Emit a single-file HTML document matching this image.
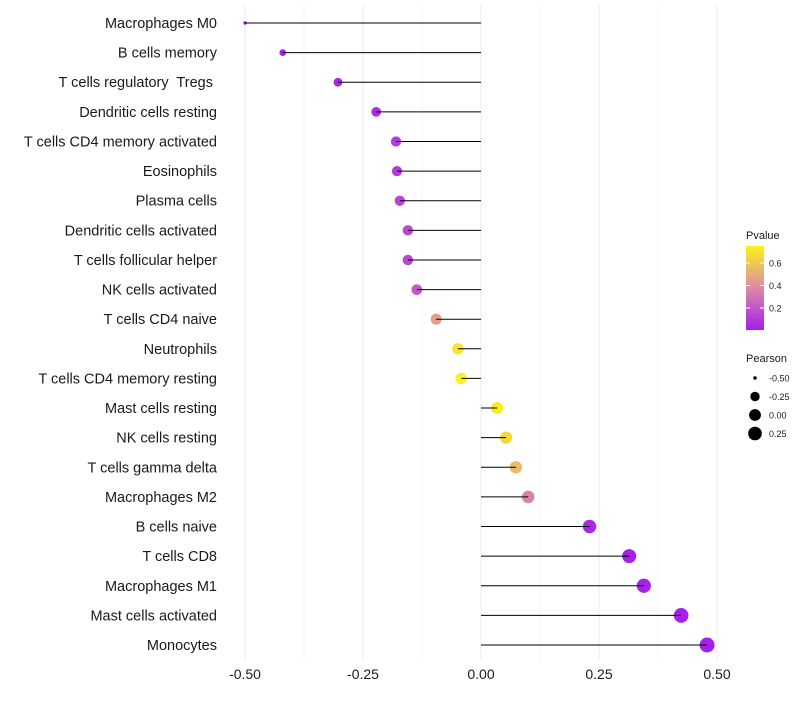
<!DOCTYPE html>
<html><head><meta charset="utf-8"><style>
body{margin:0;background:#fff;font-family:"Liberation Sans",sans-serif}
text{white-space:pre}
</style></head><body>
<svg id="c" width="800" height="700" xmlns="http://www.w3.org/2000/svg"></svg>
<script>
const cells=["Macrophages M0","B cells memory","T cells regulatory  Tregs ","Dendritic cells resting","T cells CD4 memory activated","Eosinophils","Plasma cells","Dendritic cells activated","T cells follicular helper","NK cells activated","T cells CD4 naive","Neutrophils","T cells CD4 memory resting","Mast cells resting","NK cells resting","T cells gamma delta","Macrophages M2","B cells naive","T cells CD8","Macrophages M1","Mast cells activated","Monocytes"];
const pearson=[-0.50,-0.42,-0.303,-0.222,-0.18,-0.178,-0.172,-0.155,-0.155,-0.136,-0.095,-0.049,-0.042,0.034,0.053,0.074,0.10,0.23,0.314,0.345,0.424,0.479];
const pvalue=[0.001,0.01,0.02,0.05,0.1,0.1,0.13,0.15,0.15,0.2,0.45,0.7,0.75,0.73,0.65,0.55,0.35,0.03,0.01,0.01,0.005,0.002];
const xTicks=[-0.5,-0.25,0,0.25,0.5];
const xTickLabels=["-0.50","-0.25","0.00","0.25","0.50"];
const pTicks=[0.2,0.4,0.6];
const sizeTicks=[-0.5,-0.25,0,0.25];
const sizeTickLabels=["-0.50","-0.25","0.00","0.25"];

const svg=document.getElementById('c');const NS="http://www.w3.org/2000/svg";
function mk(t,a,p){const e=document.createElementNS(NS,t);for(const k in a)e.setAttribute(k,a[k]);(p||svg).appendChild(e);return e;}
const x=v=>481+v*472;
const y=i=>23+i*(622/21);
const r=v=>Math.sqrt(3+53*Math.pow(Math.max(0,(v+0.5)/0.98),0.75));
function lerp(a,b,t){return a.map((c,i)=>Math.round(c+(b[i]-c)*t));}
function col(p){let t=Math.min(1,Math.max(0,p/0.75));const c0=[165,30,235],c1=[219,138,168],c2=[253,242,26];
 const c=t<0.5?lerp(c0,c1,t/0.5):lerp(c1,c2,(t-0.5)/0.5);return `rgb(${c})`;}
for(let v=-0.5;v<=0.5001;v+=0.125){const g=mk('line',{x1:x(v),x2:x(v),y1:5,y2:660,stroke:Math.abs((v*4)%1)<1e-6?'#ebebeb':'#f4f4f4','stroke-width':1});
}
cells.forEach((c,i)=>{
 const t=mk('text',{x:217,y:y(i)+5,'text-anchor':'end','font-size':14.5,fill:'#1a1a1a'});t.textContent=c;
 
 const d=mk('circle',{cx:x(pearson[i]),cy:y(i),r:r(pearson[i]),fill:col(pvalue[i])});
 
 const l=mk('line',{x1:x(0),x2:x(pearson[i]),y1:y(i),y2:y(i),stroke:'#000','stroke-width':1});
 
});
xTicks.forEach((v,i)=>{const t=mk('text',{x:x(v),y:679,'text-anchor':'middle','font-size':14,fill:'#1a1a1a'});t.textContent=xTickLabels[i];
});
const defs=mk('defs',{});const gr=mk('linearGradient',{id:'g',x1:0,y1:1,x2:0,y2:0},defs);
[0,0.25,0.5,0.75,1].forEach(t=>mk('stop',{offset:t,'stop-color':col(t*0.75)},gr));
let t=mk('text',{x:746,y:239,'font-size':11,fill:'#1a1a1a'});t.textContent='Pvalue';

const bar=mk('rect',{x:746,y:246,width:18,height:84,fill:'url(#g)'});

const py=p=>330-(p-0.004)*112.5;
pTicks.forEach(p=>{mk('line',{x1:746,x2:750,y1:py(p),y2:py(p),stroke:'#fff'});mk('line',{x1:760,x2:764,y1:py(p),y2:py(p),stroke:'#fff'});
 const l=mk('text',{x:769,y:py(p)+3.5,'font-size':9,fill:'#1a1a1a'});l.textContent=p.toFixed(1);
 });
t=mk('text',{x:746,y:362,'font-size':11,fill:'#1a1a1a'});t.textContent='Pearson';

sizeTicks.forEach((v,i)=>{const yy=378+i*18.5;
 const c=mk('circle',{cx:755,cy:yy,r:r(v),fill:'#000'});
 const l=mk('text',{x:769,y:yy+3.5,'font-size':9,fill:'#1a1a1a'});l.textContent=sizeTickLabels[i];
 });
</script></body></html>
